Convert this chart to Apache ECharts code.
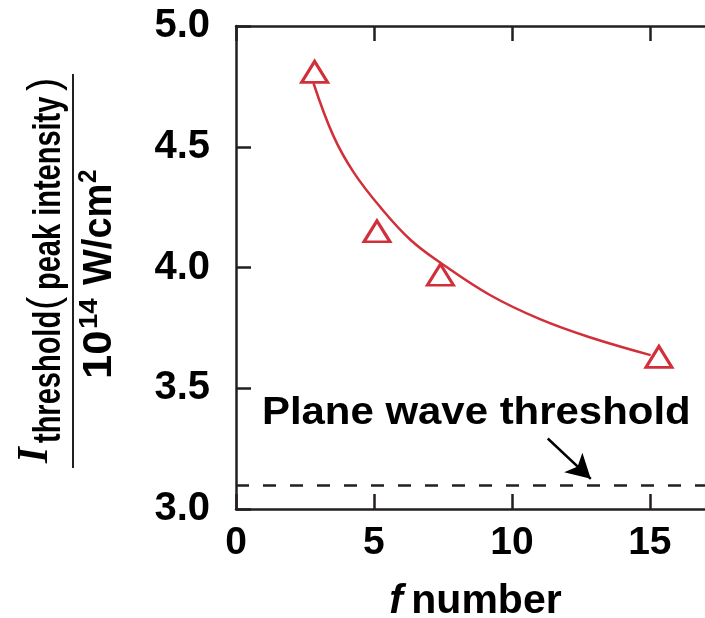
<!DOCTYPE html>
<html>
<head>
<meta charset="utf-8">
<style>
  html, body { margin: 0; padding: 0; background: #ffffff; }
  #chart { width: 705px; height: 618px; }
</style>
<script src="https://cdn.jsdelivr.net/npm/echarts@6/dist/echarts.min.js"></script>
</head>
<body>
<div id="chart"></div>
<script>
// Measured threshold intensity versus f number
const fNumbers = [2.85, 5.11, 7.41, 15.33];
const thresholds = [4.81, 4.15, 3.97, 3.63];

// Fitted trend curve through the measurements
const fitF = [2.81, 3.53, 4.26, 5.23, 6.32, 7.41, 9.22, 11.04, 12.85, 15.03];
const fitI = [4.763, 4.545, 4.395, 4.250, 4.115, 4.020, 3.885, 3.785, 3.710, 3.637];

// Plane-wave threshold level
const planeWave = 3.1;

// Axis ticks
const xTicks = [0, 5, 10, 15];
const yTicks = [3.0, 3.5, 4.0, 4.5, 5.0];

// Annotation arrow (from, to) in data units
const arrowFrom = [11.30, 3.292];
const arrowTo = [12.86, 3.125];

const INK = '#231f20';
const RED = '#d12f3a';
const SANS = '"Liberation Sans", Arial, Helvetica, sans-serif';

const chart = echarts.init(document.getElementById('chart'), null, { renderer: 'canvas' });

const zipPairs = (xs, ys) => xs.map((x, i) => [x, ys[i]]);

const baseX = {
  type: 'value', min: 0, max: 17, interval: 5,
  splitLine: { show: false },
  axisLine: { show: true, onZero: false, lineStyle: { color: INK, width: 2.5 } },
  axisTick: { show: true, inside: true, length: 15, customValues: xTicks, lineStyle: { color: INK, width: 2.5 } }
};

const option = {
  backgroundColor: '#ffffff',
  animation: false,
  grid: { left: 236, top: 26, right: 0, bottom: 109, containLabel: false, outerBoundsMode: 'none' },
  xAxis: [
    Object.assign({}, baseX, {
      position: 'bottom',
      axisLabel: {
        show: true, customValues: xTicks, margin: 15,
        color: '#000', fontFamily: SANS, fontWeight: 'bold', fontSize: 39
      },
      name: '{i|f}{s| }{b|number}',
      nameLocation: 'middle',
      nameGap: 72,
      nameMoveOverlap: false,
      nameTextStyle: {
        padding: [0, 0, 0, 10],
        rich: {
          i: { fontFamily: SANS, fontStyle: 'italic', fontWeight: 'bold', fontSize: 41, color: '#000' },
          s: { fontFamily: SANS, fontSize: 30, color: '#000' },
          b: { fontFamily: SANS, fontWeight: 'bold', fontSize: 41, color: '#000' }
        }
      }
    }),
    Object.assign({}, baseX, {
      position: 'top',
      axisLabel: { show: false }
    })
  ],
  yAxis: {
    type: 'value', min: 3.0, max: 5.0, interval: 0.5,
    splitLine: { show: false },
    axisLine: { show: true, onZero: false, lineStyle: { color: INK, width: 2.5 } },
    axisTick: { show: true, inside: true, length: 15, customValues: yTicks, lineStyle: { color: INK, width: 2.5 } },
    axisLabel: {
      customValues: yTicks, margin: 26,
      color: '#000', fontFamily: SANS, fontWeight: 'bold', fontSize: 40,
      formatter: v => v.toFixed(1)
    }
  },
  series: [
    {
      name: 'fit',
      type: 'line',
      data: zipPairs(fitF, fitI),
      smooth: 0.4,
      showSymbol: false,
      symbol: 'none',
      lineStyle: { color: RED, width: 2.5 },
      z: 2,
      markLine: {
        silent: true,
        symbol: 'none',
        label: { show: false },
        lineStyle: { color: INK, width: 2.5, type: [13, 14] },
        data: [{ yAxis: planeWave }]
      }
    },
    {
      name: 'arrow',
      type: 'line',
      data: [],
      markLine: {
        silent: true,
        symbol: ['none', 'arrow'],
        symbolSize: [20, 24],
        label: { show: false },
        lineStyle: { color: '#000', width: 2.5, type: 'solid' },
        itemStyle: { color: '#000' },
        data: [[{ coord: arrowFrom }, { coord: arrowTo }]]
      }
    },
    {
      name: 'measured',
      type: 'scatter',
      data: zipPairs(fNumbers, thresholds),
      symbol: 'triangle',
      symbolSize: [26, 21],
      itemStyle: { color: 'rgba(0,0,0,0)', borderColor: RED, borderWidth: 3, opacity: 1 },
      z: 3
    }
  ]
};

chart.setOption(option);

// Annotation label above the dashed plane-wave level
const labelAnchor = chart.convertToPixel({ gridIndex: 0 }, [0.94, 3.398]);

// Rotated y-axis title drawn as a fraction
const t = (text, x, y, font, sy, sx) => ({
  type: 'text', x: x, y: y, scaleY: sy || 1, scaleX: sx || 1,
  style: { text: text, font: font, fill: '#000', align: 'left', verticalAlign: 'middle' }
});

chart.setOption({
  graphic: [
    {
      type: 'text',
      x: labelAnchor[0], y: labelAnchor[1],
      scaleX: 1.075,
      style: {
        text: 'Plane wave threshold',
        font: 'bold 39px ' + SANS,
        fill: '#000', align: 'left', verticalAlign: 'middle'
      }
    },
    {
      type: 'group',
      x: 73, y: 271,
      rotation: Math.PI / 2,
      children: [
        { type: 'line', shape: { x1: -197, y1: 0, x2: 197, y2: 0 }, style: { stroke: INK, lineWidth: 2 } },
        t('I', -192, -38, 'italic bold 41px "Liberation Serif", "Times New Roman", serif', 1.1),
        t('threshold', -172, -24, 'bold 29px ' + SANS, 1.35),
        t('(', -39, -27, '40px ' + SANS, 1.1),
        t('peak intensity', -19, -24, 'bold 29px ' + SANS, 1.35),
        t(')', 180, -27, '40px ' + SANS, 1.1),
        t('10', -108, 27, 'bold 38px ' + SANS, 1.05, 1.15),
        t('14', -58, 17, 'bold 24px ' + SANS, 1.05, 1.15),
        t('W/cm', -14, 27, 'bold 38px ' + SANS, 1.05),
        t('2', 88, 16, 'bold 24px ' + SANS, 1.05)
      ]
    }
  ]
});
</script>
</body>
</html>
